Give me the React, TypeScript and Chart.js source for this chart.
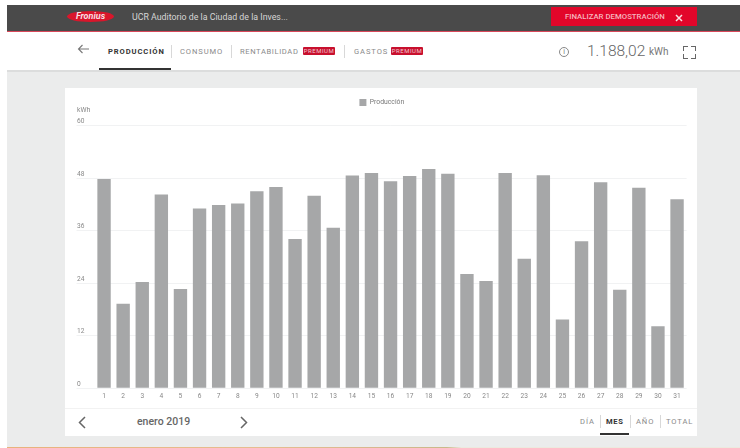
import React, { useEffect, useRef } from "react";
import { Chart, registerables } from "chart.js";

Chart.register(...registerables);

const days = ["1","2","3","4","5","6","7","8","9","10","11","12","13","14","15","16","17","18","19","20","21","22","23","24","25","26","27","28","29","30","31"];
const production = [47.8,19.3,24.3,44.3,22.7,41.1,41.9,42.2,45,46,34.1,44,36.7,48.6,49.2,47.3,48.5,50.1,49,26.1,24.5,49.2,29.6,48.7,15.7,33.6,47.1,22.5,45.8,14.2,43.2];
const yTicks = [0,12,24,36,48,60];
const seriesName = "Producción";
const FONT = "Roboto, sans-serif";

const abs = (l: number, t: number, w: number, h: number, extra: React.CSSProperties = {}): React.CSSProperties => ({
  position: "absolute", left: l, top: t, width: w, height: h, ...extra,
});

function Txt({ x, y, s, c = "#8a8a8a", w = 400, sp = 0, children }: any) {
  return (
    <div style={{ position: "absolute", left: x, top: y, fontSize: s, color: c, fontWeight: w, letterSpacing: sp, whiteSpace: "nowrap", lineHeight: "12px", fontFamily: FONT }}>
      {children}
    </div>
  );
}
const Sep = ({ x, y, h }: any) => <div style={abs(x, y, 1, h, { background: "#d8d8d8" })} />;
const Badge = ({ x }: any) => (
  <div style={abs(x, 47, 32, 8, { background: "#c8102e", color: "#f3c9cf", fontSize: 6, lineHeight: "8px", textAlign: "center", letterSpacing: 0.5, fontFamily: FONT, borderRadius: 1 })}>PREMIUM</div>
);
const Icon = ({ x, y, w, h, d, c = "#666", sw = 1.4 }: any) => (
  <svg style={abs(x, y, w, h)} viewBox={`0 0 ${w} ${h}`}>
    <path d={d} fill="none" stroke={c} strokeWidth={sw} />
  </svg>
);

export default function App() {
  const ref = useRef<HTMLCanvasElement>(null);
  useEffect(() => {
    const spacer = {
      id: "legendSpacer",
      beforeInit(chart: any) {
        const fit = chart.legend.fit;
        chart.legend.fit = function () {
          fit.call(this);
          this.height = 37.7;
        };
      },
    };
    const chart = new Chart(ref.current!, {
      type: "bar",
      data: {
        labels: days,
        datasets: [{ label: seriesName, data: production, backgroundColor: "#a6a7a8", categoryPercentage: 0.7, barPercentage: 1 }],
      },
      plugins: [spacer],
      options: {
        animation: false,
        responsive: false,
        maintainAspectRatio: false,
        layout: { autoPadding: false, padding: { left: 12, right: 10.4, top: 0, bottom: 0 } },
        plugins: {
          tooltip: { enabled: false },
          legend: {
            position: "top",
            labels: { boxWidth: 7, boxHeight: 7, padding: 11, color: "#777", font: { size: 6.8, family: FONT } },
          },
        },
        scales: {
          x: {
            afterFit: (s: any) => { s.height = 19.7; },
            grid: { display: false, drawTicks: false },
            border: { display: false },
            ticks: { color: "#888", font: { size: 6.6, family: FONT }, padding: 4, maxRotation: 0, autoSkip: false },
          },
          y: {
            min: 0, max: 60,
            afterFit: (s: any) => { s.width = 17.5; },
            afterBuildTicks: (s: any) => { s.ticks = yTicks.map((value) => ({ value })); },
            border: { display: false },
            grid: { color: "#f1f2f3", lineWidth: 1, drawTicks: true, tickLength: 18, tickColor: "#f1f2f3" },
            ticks: { color: "#888", font: { size: 6.6, family: FONT }, crossAlign: "far", labelOffset: -4, padding: 0 },
          },
        },
      },
    } as any);
    return () => chart.destroy();
  }, []);

  return (
    <div style={{ position: "fixed", left: 0, top: 0, width: 740, height: 448, overflow: "hidden", background: "#fff", fontFamily: FONT, filter: "blur(0.35px)" }}>
      {/* page background */}
      <div style={abs(7, 71, 733, 376, { background: "#ebecec" })} />
      <div style={abs(7, 447, 733, 1, { background: "linear-gradient(90deg,#e8b27c,#e6bd90 34%,#d8b78e 50%,#c9b98a 60%,#eceadf 62%,#eceadf)" })} />
      {/* top bar */}
      <div style={abs(7, 5, 733, 26, { background: "#4a4a4a" })} />
      <div style={abs(7, 31, 733, 1, { background: "#d8485a" })} />
      <div style={abs(67, 11, 47, 11, { background: "#d9162b", borderRadius: "50%", color: "#f8dfe2", fontSize: 9, fontStyle: "italic", fontWeight: 700, textAlign: "center", lineHeight: "11px", fontFamily: FONT })}>Fronius</div>
      <Txt x={132} y={11} s={8.8} c="#d6d6d6">UCR Auditorio de la Ciudad de la Inves...</Txt>
      <div style={abs(551, 7, 146, 19, { background: "#e2062a" })} />
      <Txt x={565} y={11} s={7.8} c="#f5b5bd" w={500}>FINALIZAR DEMOSTRACIÓN</Txt>
      <Icon x={675} y={14} w={8} h={8} c="#f8dfe2" sw={1.5} d="M1 1L7 7M7 1L1 7" />
      {/* nav */}
      <div style={abs(7, 70, 733, 2, { background: "#dcdddd" })} />
      <Icon x={77} y={44} w={12} h={10} c="#777" sw={1.1} d="M12 5H1.5M5.5 1L1.5 5L5.5 9" />
      <Txt x={108} y={46} s={7.6} c="#333" w={700} sp={0.9}>PRODUCCIÓN</Txt>
      <div style={abs(99, 68, 72, 2, { background: "#333" })} />
      <Sep x={171} y={45} h={13} />
      <Txt x={180} y={46} s={7.6} sp={0.9}>CONSUMO</Txt>
      <Sep x={231} y={45} h={13} />
      <Txt x={240} y={46} s={7.6} sp={0.6}>RENTABILIDAD</Txt>
      <Badge x={303} />
      <Sep x={344} y={45} h={13} />
      <Txt x={354} y={46} s={7.6} sp={0.9}>GASTOS</Txt>
      <Badge x={391} />
      <div style={abs(559, 47, 10, 10, { border: "1px solid #888", borderRadius: "50%", boxSizing: "border-box", color: "#777", fontSize: 7, lineHeight: "8px", textAlign: "center", fontFamily: FONT })}>i</div>
      <Txt x={587} y={45} s={15.5} c="#666" w={300}>1.188,02</Txt>
      <Txt x={649} y={46} s={10} c="#777">kWh</Txt>
      <div style={abs(683, 46, 4, 4, { borderLeft: "1px solid #666", borderTop: "1px solid #666" })} />
      <div style={abs(691, 46, 4, 4, { borderRight: "1px solid #666", borderTop: "1px solid #666" })} />
      <div style={abs(683, 54, 4, 4, { borderLeft: "1px solid #666", borderBottom: "1px solid #666" })} />
      <div style={abs(691, 54, 4, 4, { borderRight: "1px solid #666", borderBottom: "1px solid #666" })} />
      {/* card */}
      <div style={abs(65, 88, 632, 348, { background: "#fff" })} />
      <canvas ref={ref} width={632} height={320} style={{ position: "absolute", left: 65, top: 88, width: 632, height: 320 }} />
      <Txt x={77} y={104} s={6.8} c="#888">kWh</Txt>
      <div style={abs(65, 408, 632, 1, { background: "#f2f2f2" })} />
      <Icon x={78} y={416} w={8} h={13} c="#666" sw={1.5} d="M7 1L1.5 6.5L7 12" />
      <Txt x={137} y={416} s={10.5} c="#666" w={500}>enero 2019</Txt>
      <Icon x={240} y={416} w={8} h={13} c="#666" sw={1.5} d="M1 1L6.5 6.5L1 12" />
      <Txt x={580} y={416} s={7.6} sp={0.9}>DÍA</Txt>
      <Sep x={600} y={415} h={13} />
      <Txt x={606} y={416} s={7.6} c="#333" w={700} sp={0.7}>MES</Txt>
      <div style={abs(600, 433, 29, 2, { background: "#333" })} />
      <Sep x={630} y={415} h={13} />
      <Txt x={636} y={416} s={7.6} sp={0.9}>AÑO</Txt>
      <Sep x={660} y={415} h={13} />
      <Txt x={666} y={416} s={7.6} sp={0.9}>TOTAL</Txt>
    </div>
  );
}
